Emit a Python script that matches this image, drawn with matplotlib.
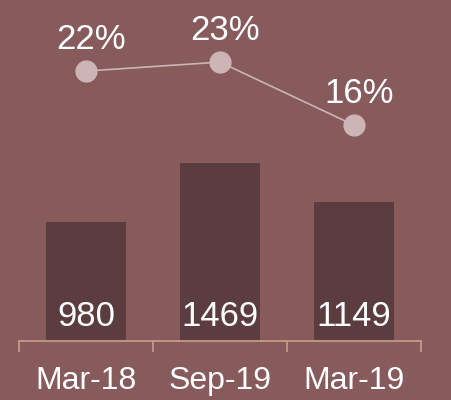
import matplotlib
matplotlib.use("Agg")
import matplotlib.pyplot as plt

periods = ["Mar-18", "Sep-19", "Mar-19"]
counts = [980, 1469, 1149]
shares = [22, 23, 16]

COLOR_BG = "#875A5C"
COLOR_BAR = "#5B3C3F"
COLOR_LINE = "#CDB4B5"
COLOR_AXIS = "#C9A08C"

plt.rcParams["font.family"] = ["Liberation Sans", "DejaVu Sans"]

fig = plt.figure(figsize=(4.52, 4.0), dpi=100, facecolor=COLOR_BG)
ax = fig.add_axes([0.042, 0.1475, 0.889, 0.8525])
ax.set_facecolor("none")

x = range(len(periods))
ax.bar(x, counts, width=0.6, color=COLOR_BAR, zorder=2)
for i, v in zip(x, counts):
    ax.annotate(f"{v}", (i, 0), xytext=(0, 18), textcoords="offset points",
                ha="center", va="center", fontsize=25, color="white", zorder=4)

ax.set_xlim(-0.5, 2.5)
ax.set_ylim(0, 2814)
ax.set_yticks([])
ax.set_xticks(list(x))
ax.set_xticklabels(periods, fontsize=23, color="white")
ax.tick_params(axis="x", which="major", length=0, pad=18)
ax.set_xticks([-0.5, 0.5, 1.5, 2.5], minor=True)
ax.tick_params(axis="x", which="minor", length=8, width=1.2, color=COLOR_AXIS,
               direction="out")
for side in ("top", "right", "left"):
    ax.spines[side].set_visible(False)
ax.spines["bottom"].set_color(COLOR_AXIS)
ax.spines["bottom"].set_linewidth(1.2)

ax2 = ax.twinx()
ax2.set_ylim(-8, 29.9)
ax2.plot(list(x), shares, color=COLOR_LINE, linewidth=1.2, zorder=3)
ax2.plot(list(x), shares, "o", color=COLOR_LINE, markersize=15, zorder=3)
for i, v in zip(x, shares):
    ax2.annotate(f"{v}%", (i, v), xytext=(4, 23), textcoords="offset points",
                 ha="center", va="center", fontsize=25, color="white")
ax2.set_yticks([])
for side in ("top", "right", "left", "bottom"):
    ax2.spines[side].set_visible(False)

fig.savefig("out.png", dpi=100, facecolor=COLOR_BG)
